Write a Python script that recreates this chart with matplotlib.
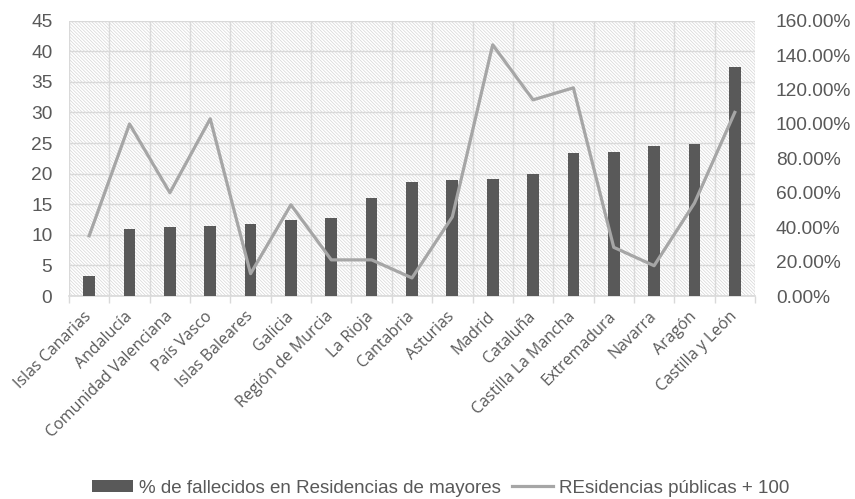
import matplotlib
matplotlib.use("Agg")
import matplotlib.pyplot as plt
import numpy as np
from matplotlib.patches import Rectangle
from matplotlib.ticker import FuncFormatter, MultipleLocator

regions = [
    "Islas Canarias", "Andalucía", "Comunidad Valenciana", "País Vasco",
    "Islas Baleares", "Galicia", "Región de Murcia", "La Rioja", "Cantabria",
    "Asturias", "Madrid", "Cataluña", "Castilla La Mancha", "Extremadura",
    "Navarra", "Aragón", "Castilla y León",
]
fallecidos = [3.3, 10.9, 11.2, 11.4, 11.7, 12.5, 12.7, 16.1, 18.7, 18.9,
              19.2, 19.9, 23.4, 23.5, 24.6, 24.8, 37.5]
publicas = [0.35, 1.00, 0.60, 1.03, 0.13, 0.53, 0.21, 0.21, 0.105, 0.46,
            1.46, 1.14, 1.21, 0.283, 0.176, 0.54, 1.067]

TEXT = "#595959"
GRID = "#d9d9d9"

plt.rcParams["font.family"] = ["Liberation Sans", "DejaVu Sans"]
plt.rcParams["hatch.linewidth"] = 0.5

fig = plt.figure(figsize=(8.55, 4.99), dpi=100)
ax = fig.add_axes([0.0807, 0.4068, 0.8023, 0.5517])
ax2 = ax.twinx()

x = np.arange(len(regions))

# fine diagonal hatch behind the data
ax.add_patch(Rectangle((0, 0), 1, 1, transform=ax.transAxes, facecolor="white",
                       edgecolor="#d6d6d6", hatch="\\" * 10, lw=0, zorder=0))

bars = ax.bar(x, fallecidos, width=0.29, color="#595959", zorder=3,
              label="% de fallecidos en Residencias de mayores")
line, = ax2.plot(x, publicas, color="#a6a6a6", lw=2.3, zorder=4,
                 label="REsidencias públicas + 100")

ax.set_xlim(-0.5, len(regions) - 0.5)
ax.set_ylim(0, 45)
ax2.set_ylim(0, 1.6)
ax.yaxis.set_major_locator(MultipleLocator(5))
ax2.yaxis.set_major_locator(MultipleLocator(0.2))
ax2.yaxis.set_major_formatter(FuncFormatter(lambda v, _: f"{v * 100:.2f}%"))

ax.set_xticks(x)
ax.set_xticklabels(regions, rotation=45, ha="right", va="center",
                   rotation_mode="anchor", family=["Open Sans", "DejaVu Sans"],
                   fontsize=11.5, color=TEXT)
ax.set_xticks(np.arange(-0.5, len(regions)), minor=True)
ax.tick_params(axis="x", which="major", length=0, pad=13)
ax.tick_params(axis="x", which="minor", length=5, color=GRID, width=1)
ax.tick_params(axis="y", length=0, labelsize=13.8, labelcolor=TEXT, pad=12)
ax2.tick_params(axis="y", length=0, labelsize=13.8, labelcolor=TEXT, pad=15)

ax.grid(True, which="minor", axis="x", color=GRID, lw=1, zorder=1)
ax.grid(True, which="major", axis="y", color=GRID, lw=1, zorder=1)
ax.set_axisbelow(True)

for a in (ax, ax2):
    for side in ("top", "left", "right"):
        a.spines[side].set_visible(False)
ax.spines["bottom"].set_color(GRID)
ax.spines["bottom"].set_linewidth(1.2)
ax2.spines["bottom"].set_visible(False)

ax.set_zorder(ax2.get_zorder() - 1)
ax2.patch.set_visible(False)
ax.patch.set_visible(False)

fig.legend([bars, line], [bars.get_label(), line.get_label()],
           loc="center", bbox_to_anchor=(0.515, 0.022), ncol=2, frameon=False,
           fontsize=13.5, labelcolor=TEXT, handlelength=2.2, handleheight=0.6,
           columnspacing=0.6, handletextpad=0.3, borderaxespad=0)

fig.savefig("out.png", dpi=100)
